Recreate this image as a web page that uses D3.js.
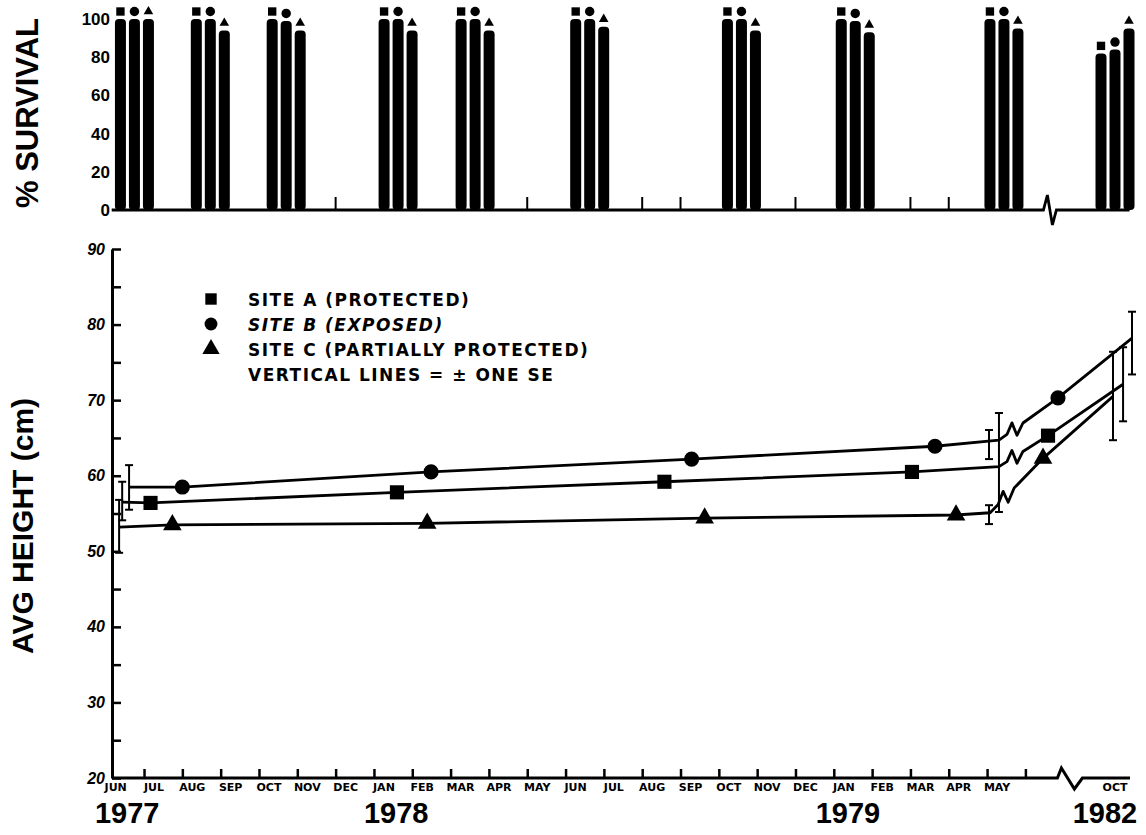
<!DOCTYPE html>
<html>
<head>
<meta charset="utf-8">
<script src="https://cdn.jsdelivr.net/npm/d3@7"></script>
<style>
  body { margin: 0; background: #fff; }
  text { font-family: "Liberation Sans", Arial, sans-serif; font-weight: bold; fill: #000; }
</style>
</head>
<body>
<div id="chart"></div>
<script>
// month index: 0 = JUN 1977 ... 23 = MAY 1979, axis break, 64 = OCT 1982
var monthNames = ["JUN","JUL","AUG","SEP","OCT","NOV","DEC","JAN","FEB","MAR","APR","MAY",
                  "JUN","JUL","AUG","SEP","OCT","NOV","DEC","JAN","FEB","MAR","APR","MAY"];
var yearNames = ["1977", "1978", "1979", "1982"];
var yearMonths = [0.56, 7.58, 19.37, 59.5];

// % survival, one group of bars per survey
var surveyMonths = [0.75, 2.73, 4.71, 7.63, 9.64, 12.63, 16.59, 19.56, 23.44, 64];
var survA = [100, 100, 100, 100, 100, 100, 100, 100, 100, 82];
var survB = [100, 100, 99, 100, 100, 100, 100, 99, 100, 84];
var survC = [100, 94, 94, 94, 94, 96, 94, 93, 95, 95];
var emptyMonths = [6, 11, 14, 15, 18, 21, 22];

// avg height (cm); index 5 is last before the break, 6.. after it
var monthsA = [0.43, 1.17, 7.6, 14.58, 21.04, 23.31, 34.1, 67.6];
var heightA = [56.5, 56.4, 57.8, 59.2, 60.5, 61.2, 65.3, 72.1];
var monthsB = [0.61, 2.0, 8.49, 15.29, 21.64, 23.31, 38.55, 71.6];
var heightB = [58.5, 58.5, 60.5, 62.2, 63.9, 64.7, 70.3, 78.2];
var monthsC = [0.35, 1.74, 8.39, 15.63, 22.19, 23.08, 31.86, 63.1];
var heightC = [53.2, 53.5, 53.7, 54.4, 54.8, 55.1, 62.3, 70.5];
var markedPoints = [1, 2, 3, 4, 6];

// vertical lines = +/- one SE : [month, low, high]
var seA = [[0.43, 54.1, 59.2], [23.31, 55.2, 68.3], [67.6, 67.2, 77.0]];
var seB = [[0.61, 55.5, 61.4], [23.05, 62.2, 66.05], [71.6, 73.4, 81.7]];
var seC = [[0.35, 49.8, 56.8], [23.05, 53.6, 56.1], [63.1, 64.7, 76.4]];

var legendLabels = ["SITE A (PROTECTED)", "SITE B (EXPOSED)", "SITE C (PARTIALLY PROTECTED)", "VERTICAL LINES = \u00B1 ONE SE"];

var width = 1146, height = 835;

var svg = d3.select("#chart").append("svg")
    .attr("width", width)
    .attr("height", height);

// time scale with a break after May 1979
var x = d3.scaleLinear().domain([0, 24, 64]).range([105.7, 1025.4, 1115]);
var y = d3.scaleLinear().domain([20, 90]).range([778, 249]);
var yS = d3.scaleLinear().domain([0, 100]).range([210, 19]);

var sites = [
  {key: "A", surv: survA, months: monthsA, heights: heightA, se: seA, shape: d3.symbolSquare, size: 200, off: -14},
  {key: "B", surv: survB, months: monthsB, heights: heightB, se: seB, shape: d3.symbolCircle, size: 180, off: 0},
  {key: "C", surv: survC, months: monthsC, heights: heightC, se: seC, shape: d3.symbolTriangle, size: 150, off: 14}
];

// ---------- top panel: % survival ----------
var topG = svg.append("g");

var x24 = x(24);
topG.append("path")
    .attr("d", "M" + (x(0) + 6) + "," + yS(0) + " L" + (x24 + 18) + "," + yS(0) +
               " L" + (x24 + 22) + "," + (yS(0) - 15) + " L" + (x24 + 27) + "," + (yS(0) + 15) +
               " L" + (x24 + 31) + "," + yS(0) + " L" + x(70.5) + "," + yS(0))
    .attr("fill", "none").attr("stroke", "#000").attr("stroke-width", 2.8);

topG.selectAll(".emptytick")
    .data(emptyMonths)
  .enter().append("line")
    .attr("x1", function(d) { return x(d); })
    .attr("x2", function(d) { return x(d); })
    .attr("y1", yS(0))
    .attr("y2", yS(0) - 13)
    .attr("stroke", "#000").attr("stroke-width", 2);

sites.forEach(function(s) {
  topG.selectAll(".bar" + s.key)
      .data(surveyMonths)
    .enter().append("rect")
      .attr("x", function(d) { return x(d) + s.off - 5.5; })
      .attr("y", function(d, i) { return yS(s.surv[i]); })
      .attr("width", 11)
      .attr("height", function(d, i) { return yS(0) - yS(s.surv[i]); })
      .attr("rx", 4)
      .attr("fill", "#000");

  topG.selectAll(".cap" + s.key)
      .data(surveyMonths)
    .enter().append("path")
      .attr("d", d3.symbol().type(s.shape).size(s.key == "C" ? 40 : 70))
      .attr("transform", function(d, i) {
        return "translate(" + (x(d) + s.off) + "," + (yS(s.surv[i]) - 7.5) + ")";
      })
      .attr("fill", "#000");
});

var topAxis = topG.append("g")
    .attr("transform", "translate(110,0)")
    .call(d3.axisLeft(yS).tickValues([0, 20, 40, 60, 80, 100]).tickSize(0).tickPadding(0));
topAxis.select(".domain").remove();
topAxis.selectAll("text")
    .style("font-size", "17px")
    .style("font-family", "'Liberation Sans', Arial, sans-serif")
    .style("font-weight", "bold");

topG.append("text")
    .attr("transform", "translate(38,113) rotate(-90)")
    .attr("text-anchor", "middle")
    .style("font-size", "31px")
    .text("% SURVIVAL");

// ---------- bottom panel: avg height ----------
var g = svg.append("g");

// y axis
var yAxis = g.append("g")
    .attr("transform", "translate(112,0)")
    .call(d3.axisLeft(y)
      .tickValues(d3.range(20, 91, 5))
      .tickSizeInner(-9)
      .tickSizeOuter(0)
      .tickPadding(7)
      .tickFormat(function(d) { return d % 10 == 0 ? d : ""; }));
yAxis.select(".domain").attr("stroke-width", 3);
yAxis.selectAll("line").attr("stroke-width", 2.5);
yAxis.selectAll("text")
    .style("font-size", "16px")
    .style("font-style", "italic")
    .style("font-family", "'Liberation Sans', Arial, sans-serif")
    .style("font-weight", "bold");

// x axis, with a break before Oct 1982
var xAxis = g.append("g")
    .attr("transform", "translate(0," + y(20) + ")")
    .call(d3.axisBottom(x)
      .tickValues(d3.range(1, 25))
      .tickSizeInner(-9)
      .tickSizeOuter(0)
      .tickFormat(""));
xAxis.select(".domain").remove();
xAxis.selectAll("line").attr("stroke-width", 2.5);

g.append("path")
    .attr("d", "M112," + y(20) + " L" + (x24 + 32) + "," + y(20) +
               " L" + (x24 + 36) + "," + (y(20) - 10) + " L" + (x24 + 49) + "," + (y(20) + 11) +
               " L" + (x24 + 57) + "," + y(20) + " L" + x(70.7) + "," + y(20))
    .attr("fill", "none").attr("stroke", "#000").attr("stroke-width", 3);

g.selectAll(".month")
    .data(monthNames)
  .enter().append("text")
    .attr("x", function(d, i) { return x(i) + 10; })
    .attr("y", y(20) + 13)
    .attr("text-anchor", "middle")
    .style("font-family", "'DejaVu Sans', sans-serif")
    .style("font-size", "11px")
    .text(function(d) { return d; });

g.append("text")
    .attr("x", x(64))
    .attr("y", y(20) + 13)
    .attr("text-anchor", "middle")
    .style("font-family", "'DejaVu Sans', sans-serif")
    .style("font-size", "11px")
    .text("OCT");

g.selectAll(".year")
    .data(yearNames)
  .enter().append("text")
    .attr("x", function(d, i) { return x(yearMonths[i]); })
    .attr("y", 823)
    .attr("text-anchor", "middle")
    .style("font-size", "29px")
    .text(function(d) { return d; });

g.append("text")
    .attr("transform", "translate(33,526) rotate(-90)")
    .attr("text-anchor", "middle")
    .style("font-size", "30px")
    .text("AVG HEIGHT (cm)");

// lines with a zigzag where the time axis breaks
function sitePath(s) {
  var pts = s.months.map(function(m, i) { return [x(m), y(s.heights[i])]; });
  var p = d3.path();
  p.moveTo(pts[0][0], pts[0][1]);
  for (var i = 1; i < pts.length; i++) {
    if (i == 6) {
      var a = pts[5], b = pts[6];
      var dx = b[0] - a[0], dy = b[1] - a[1];
      var at = function(t, o) { return [a[0] + dx * t, a[1] + dy * t + o]; };
      var t0 = 8 / dx, t1 = 13 / dx, t2 = 18 / dx, t3 = 24 / dx;
      var q0 = at(t0, 0), q1 = at(t1, -8), q2 = at(t2, 8), q3 = at(t3, 0);
      p.lineTo(q0[0], q0[1]); p.lineTo(q1[0], q1[1]);
      p.lineTo(q2[0], q2[1]); p.lineTo(q3[0], q3[1]);
    }
    p.lineTo(pts[i][0], pts[i][1]);
  }
  return p.toString();
}

sites.forEach(function(s) {
  g.append("path")
      .attr("d", sitePath(s))
      .attr("fill", "none")
      .attr("stroke", "#000")
      .attr("stroke-width", 2.8)
      .attr("stroke-linejoin", "round");

  g.selectAll(".pt" + s.key)
      .data(markedPoints)
    .enter().append("path")
      .attr("d", d3.symbol().type(s.shape).size(s.size))
      .attr("transform", function(i) {
        return "translate(" + x(s.months[i]) + "," + y(s.heights[i]) + ")";
      })
      .attr("fill", "#000");

  var se = g.selectAll(".se" + s.key)
      .data(s.se)
    .enter().append("g");
  se.append("line")
      .attr("x1", function(d) { return x(d[0]); })
      .attr("x2", function(d) { return x(d[0]); })
      .attr("y1", function(d) { return y(d[1]); })
      .attr("y2", function(d) { return y(d[2]); })
      .attr("stroke", "#000").attr("stroke-width", 2);
  [1, 2].forEach(function(k) {
    se.append("line")
        .attr("x1", function(d) { return x(d[0]) - 4; })
        .attr("x2", function(d) { return x(d[0]) + 4; })
        .attr("y1", function(d) { return y(d[k]); })
        .attr("y2", function(d) { return y(d[k]); })
        .attr("stroke", "#000").attr("stroke-width", 2);
  });
});

// legend
var legend = g.append("g").attr("transform", "translate(211,299)");
legend.selectAll("text")
    .data(legendLabels)
  .enter().append("text")
    .attr("x", 37)
    .attr("y", function(d, i) { return i * 25 + 6.5; })
    .style("font-family", "'DejaVu Sans', sans-serif")
    .style("font-size", "17px")
    .style("letter-spacing", "1.5px")
    .style("font-style", function(d, i) { return i == 1 ? "italic" : "normal"; })
    .text(function(d) { return d; });
sites.forEach(function(s, i) {
  legend.append("path")
      .attr("d", d3.symbol().type(s.shape).size(130))
      .attr("transform", "translate(0," + (i * 25) + ")")
      .attr("fill", "#000");
});
</script>
</body>
</html>
